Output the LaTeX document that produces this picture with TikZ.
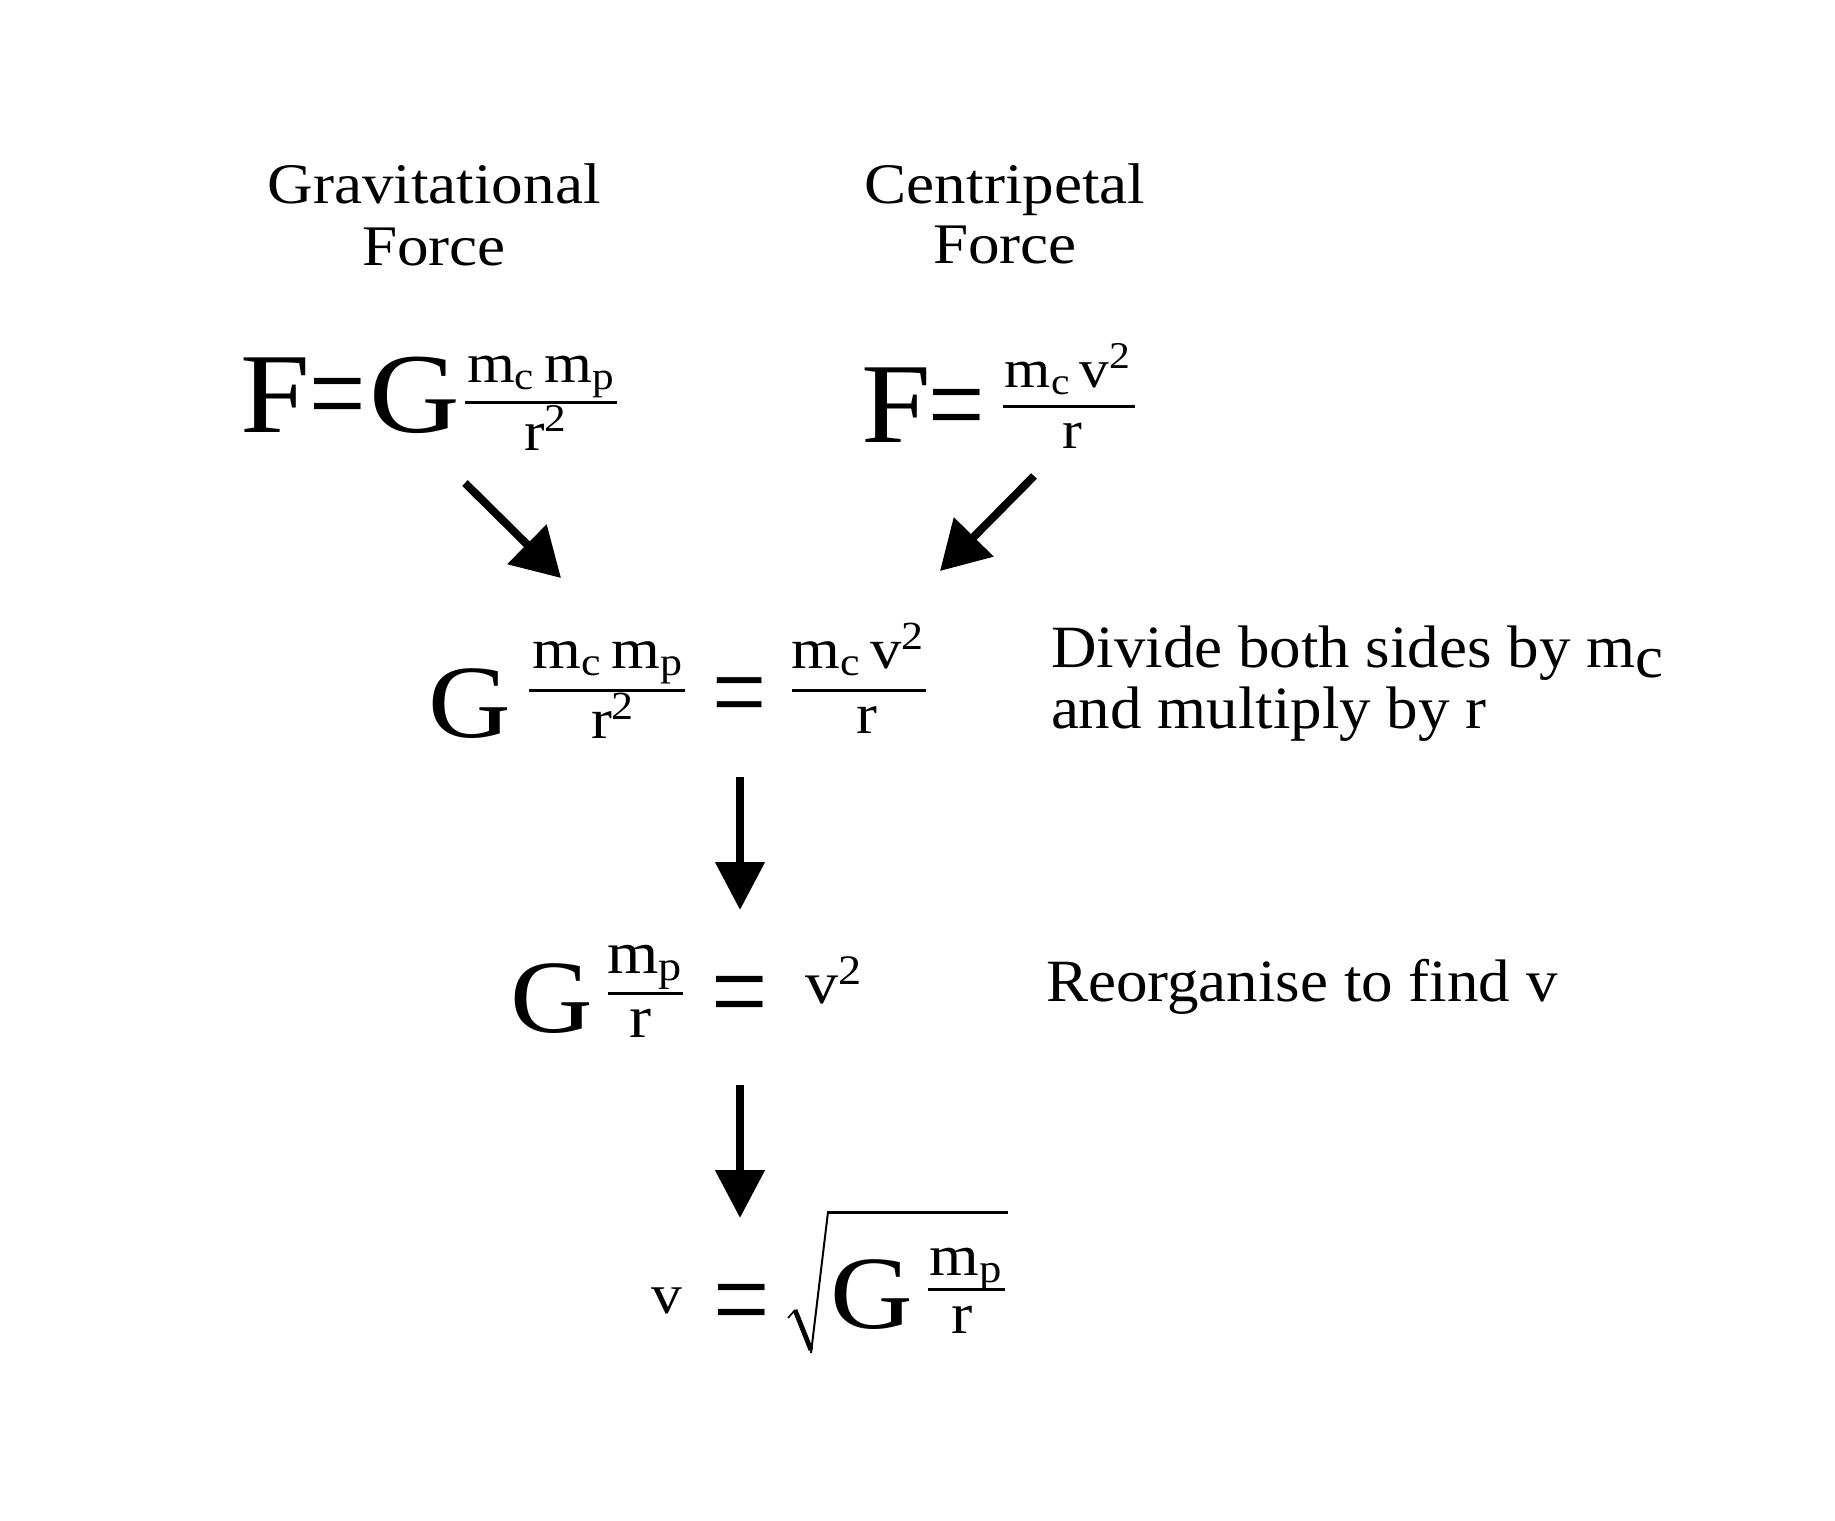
\documentclass[tikz,border=0pt]{standalone}
\usepackage{graphicx}
\usepackage{fontspec}
\setmainfont{Liberation Serif}
\newfontfamily\bask[FakeStretch=1.1]{Liberation Serif}
\newfontfamily\notefont[FakeStretch=1.05]{Liberation Serif}
\usetikzlibrary{arrows.meta}
\newcommand\setfs[1]{\fontsize{#1}{#1}\selectfont}
\newcommand\eqs{\scalebox{1}[1.25]{=}}
\begin{document}
\begin{tikzpicture}[x=0.5pt,y=-0.5pt,
  txt/.style={inner sep=0pt, outer sep=0pt},
  head/.style={txt, anchor=base, font=\bask\setfs{28.7}},
  big/.style={txt, anchor=base west, font=\bask\setfs{#1}},
  frac/.style={txt, anchor=base, font=\bask\setfs{#1}},
  eqsign/.style={txt, anchor=center, font=\rmfamily\setfs{#1}},
  note/.style={txt, anchor=base west, font=\notefont\setfs{30}},
  bar/.style={line width=1.5pt},
  arr/.style={line width=4pt, -{Triangle[length=24pt,width=24pt]}},
  darr/.style={line width=4pt, -{Triangle[length=24pt,width=27pt]}}]
\fill[white] (0,0) rectangle (1835,1520);
\useasboundingbox (0,0) rectangle (1835,1520);

% headings
\node[head] (gravA) at (434,203) {Gravitational};
\node[head] (gravB) at (434,265) {Force};
\node[head] (centA) at (1005,203) {Centripetal};
\node[head] (centB) at (1005,263) {Force};

% equation 1
\node[big=57] (e1F) at (240,432) {F};
\node[eqsign=50] (e1eq) at (338,407) {\eqs};
\node[big=57] (e1G) at (369,432) {G};
\draw[bar] (465,402) -- (617,402);
\node[frac=28] (e1n) at (541,382) {m\textsubscript{c}\,m\textsubscript{p}};
\node[frac=28] (e1d) at (546,450) {r\textsuperscript{2}};

% equation 2
\node[big=57] (e2F) at (861,442) {F};
\node[eqsign=50] (e2eq) at (957,418) {\eqs};
\draw[bar] (1003,406) -- (1135,406);
\node[frac=27] (e2n) at (1068,387) {m\textsubscript{c}\,v\textsuperscript{2}};
\node[frac=27] (e2d) at (1072,448) {r};

% equation 3
\node[big=52] (e3G) at (428,737) {G};
\draw[bar] (529,690) -- (685,690);
\node[frac=28.5] (e3n) at (608,668) {m\textsubscript{c}\,m\textsubscript{p}};
\node[frac=28.5] (e3d) at (613,738) {r\textsuperscript{2}};
\node[eqsign=48] (e3eq) at (740,705) {\eqs};
\draw[bar] (792,690) -- (926,690);
\node[frac=28.5] (e3n2) at (858,668) {m\textsubscript{c}\,v\textsuperscript{2}};
\node[frac=28.5] (e3d2) at (867,733) {r};

% equation 4
\node[big=52] (e4G) at (510,1032) {G};
\draw[bar] (608,993) -- (683,993);
\node[frac=30] (e4n) at (645,973) {m\textsubscript{p}};
\node[frac=30] (e4d) at (640,1037) {r};
\node[eqsign=50] (e4eq) at (740,1005) {\eqs};
\node[big=30] (e4v) at (805,1003) {v\textsuperscript{2}};

% equation 5
\node[big=28] (e5v) at (651,1313) {v};
\node[eqsign=50] (e5eq) at (742,1313) {\eqs};
\draw[line width=0.8pt] (788,1318) -- (795,1310);
\draw[line width=2.4pt] (795,1310) -- (811,1350);
\draw[line width=1pt] (811,1353) -- (828,1212);
\draw[bar] (827,1212) -- (1008,1212);
\node[big=52] (e5G) at (830,1328) {G};
\draw[bar] (928,1289) -- (1005,1289);
\node[frac=29] (e5n) at (966,1275) {m\textsubscript{p}};
\node[frac=29] (e5d) at (962,1333) {r};

% notes
\node[note] (n1a) at (1051,667) {Divide both sides by m\raisebox{-5pt}{c}};
\node[note] (n1b) at (1051,728) {and multiply by r};
\node[note] (n2) at (1046,1001) {Reorganise to find v};

% arrows
\coordinate (a1s) at (465,483);
\coordinate (a1e) at (561,578);
\coordinate (a2s) at (1034,476);
\coordinate (a2e) at (940,571);
\coordinate (a3s) at (740,777);
\coordinate (a3e) at (740,910);
\coordinate (a4s) at (740,1085);
\coordinate (a4e) at (740,1218);
\draw[darr] (a1s) -- (a1e);
\draw[darr] (a2s) -- (a2e);
\draw[arr] (a3s) -- (a3e);
\draw[arr] (a4s) -- (a4e);
\end{tikzpicture}
\end{document}
